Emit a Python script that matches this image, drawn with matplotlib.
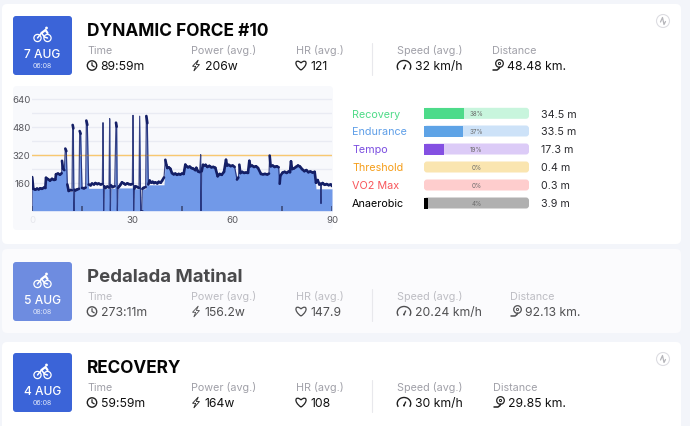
import numpy as np
import matplotlib
matplotlib.use("Agg")
import matplotlib.pyplot as plt
from matplotlib.collections import LineCollection
from matplotlib.patches import FancyBboxPatch, Circle, Polygon, PathPatch, Arc
from matplotlib.path import Path

plt.rcParams['font.family'] = ['Inter', 'DejaVu Sans']

# ---------- data ----------
power_samples = [
    (0, 0), (0.05, 192), (0.4, 125), (1, 120), (1.5, 126), (2, 122), (2.5, 128), (3, 125), (3.6, 132), (4, 130),
    (4.2, 188), (4.8, 180), (5.4, 172), (6, 182), (6.6, 176), (7, 178), (7.2, 208), (7.8, 212), (8.4, 206), (8.9, 214),
    (9, 285), (9.3, 240), (9.7, 232), (10, 355), (10.3, 340), (10.6, 150), (11, 113), (11.5, 118), (12, 116),
    (12.2, 490), (12.4, 470), (12.6, 0), (12.8, 120), (13, 116), (13.6, 122), (14.1, 125), (14.3, 455), (14.6, 440),
    (15, 130), (15.6, 128), (16.1, 132), (16.3, 515), (16.6, 490), (17, 150), (17.6, 145), (18, 155), (18.6, 150),
    (19, 158), (19.6, 152), (20, 155), (20.6, 150), (21.1, 152), (21.3, 503), (21.5, 0), (21.7, 140), (22, 130),
    (22.6, 138), (23.1, 132), (23.3, 526), (23.5, 0), (23.7, 145), (24.2, 135), (24.8, 140), (25.2, 503), (25.4, 480),
    (25.6, 0), (25.8, 130), (26.2, 140), (26.6, 150), (27, 162), (27.6, 155), (28, 150), (28.6, 156), (29, 152),
    (29.6, 150), (30.1, 152), (30.3, 545), (30.5, 0), (30.7, 125), (31, 140), (31.6, 135), (32.1, 130), (32.3, 540),
    (32.6, 0), (32.9, 0), (33.1, 125), (33.4, 130), (34.1, 135), (34.3, 541), (34.6, 500), (34.9, 150), (35.3, 172),
    (35.8, 160), (36.2, 165), (36.6, 158), (37, 162), (37.6, 156), (38, 165), (38.6, 160), (39, 170), (39.6, 190),
    (40, 291), (40.3, 262), (40.6, 244), (41, 248), (41.5, 240), (42, 215), (42.5, 208), (43, 212), (43.5, 205),
    (44, 210), (44.5, 207), (45, 212), (45.5, 210), (46, 263), (46.3, 255), (46.8, 248), (47.3, 252), (47.8, 244),
    (48.4, 240), (49, 232), (49.3, 245), (49.8, 225), (50.3, 220), (50.6, 320), (50.7, 0), (50.9, 225), (51.3, 262),
    (51.9, 258), (52.1, 262), (52.6, 250), (53.2, 256), (53.8, 248), (54.4, 250), (55, 245), (55.7, 197), (56.3, 210),
    (56.9, 205), (57.6, 222), (58.2, 291), (58.5, 258), (59, 262), (59.6, 255), (60.2, 258), (60.8, 250), (61.5, 178),
    (61.9, 190), (62.2, 263), (62.5, 215), (63, 222), (63.6, 216), (64.2, 218), (64.8, 216), (65.2, 285), (65.5, 254),
    (66, 258), (66.6, 250), (67.2, 254), (67.8, 244), (68.7, 210), (69.3, 208), (69.9, 210), (70.6, 207), (71.1, 212),
    (71.3, 315), (71.6, 254), (72.2, 258), (72.8, 250), (73.4, 254), (74, 248), (74.3, 154), (74.5, 200), (75.2, 218),
    (75.8, 222), (76.4, 216), (77, 224), (77.4, 220), (77.7, 282), (78, 238), (78.6, 242), (79.2, 250), (79.8, 258),
    (80.4, 252), (81, 238), (81.7, 226), (82.3, 232), (82.9, 220), (83.5, 224), (84.2, 218), (84.8, 222), (85.2, 160),
    (85.7, 175), (86.2, 150), (86.6, 155), (86.7, 41), (86.8, 150), (87.2, 158), (87.8, 148), (88.4, 152), (89, 146),
    (89.6, 150), (90, 141),
]
# stretches where the blue area sits lower than the power trace: (from, to, area height)
fill_caps = [(10.6, 12, 110), (16.9, 21.1, 128), (21.7, 23.1, 126), (23.7, 25, 128), (25.8, 30.1, 130),
             (30.7, 32.1, 125), (33.1, 34.1, 125), (34.9, 39.6, 148), (85.2, 90, 125)]
threshold_w = 320
minor_ticks = [0, 15, 45, 75, 90]
y_ticks = [160, 320, 480, 640]
x_ticks = [0, 30, 60, 90]

zones = ["Recovery", "Endurance", "Tempo", "Threshold", "VO2 Max", "Anaerobic"]
zone_pct = [38, 37, 19, 0, 0, 4]
zone_min = ["34.5 m", "33.5 m", "17.3 m", "0.4 m", "0.3 m", "3.9 m"]
zone_text = ["#4fdb88", "#5f9fe8", "#7c4fe0", "#f59e1b", "#f8555a", "#000000"]
zone_fill = ["#4ddb8a", "#5ea3e6", "#8450e2", "#f0b040", "#f8606a", "#000000"]
zone_track = ["#c8f5dd", "#cde2f8", "#dccbf7", "#fae5b0", "#fecdcd", "#b0b0b0"]

cards = [
    dict(top=5, bottom=245, bg="#ffffff", box="#3b64d8", date="7 AUG", hour="06:08", title="DYNAMIC FORCE #10", tsize=17.3,
         vals=["89:59m", "206w", "121", "32 km/h", "48.48 km."], dist_x=492, logo=True, faded=False, t_y=31.5, box_top=17),
    dict(top=250, bottom=334, bg="#fbfbfd", box="#6e8ce0", date="5 AUG", hour="08:08", title="Pedalada Matinal", tsize=18.6,
         vals=["273:11m", "156.2w", "147.9", "20.24 km/h", "92.13 km."], dist_x=510, logo=False, faded=True, t_y=277.5, box_top=263),
    dict(top=343, bottom=440, bg="#ffffff", box="#3b64d8", date="4 AUG", hour="06:08", title="RECOVERY", tsize=17.2,
         vals=["59:59m", "164w", "108", "30 km/h", "29.85 km."], dist_x=493, logo=True, faded=False, t_y=368.5, box_top=354),
]
stat_labels = ["Time", "Power (avg.)", "HR (avg.)", "Speed (avg.)", "Distance"]

power_t = np.array([p[0] for p in power_samples], dtype=float)
power_w = np.array([p[1] for p in power_samples], dtype=float)
fill_w = power_w.copy()
for t0, t1, cap in fill_caps:
    inside = (power_t >= t0) & (power_t <= t1)
    fill_w[inside] = np.minimum(fill_w[inside], cap)

# ---------- canvas in pixels ----------
W, H = 690, 427
fig = plt.figure(figsize=(W / 100, H / 100), dpi=100, facecolor="#f3f5fa")
bg = fig.add_axes([0, 0, 1, 1])
bg.set_xlim(0, W)
bg.set_ylim(H, 0)
bg.axis("off")


def px(s):
    return s * 0.72


def rbox(x0, y0, x1, y1, r, **kw):
    p = FancyBboxPatch((x0 + r, y0 + r), x1 - x0 - 2 * r, y1 - y0 - 2 * r,
                       boxstyle=f"round,pad={r},rounding_size={r}", linewidth=kw.pop("lw", 0), **kw)
    bg.add_patch(p)
    return p


def line(xs, ys, c, lw=1.0, z=5):
    bg.plot(xs, ys, color=c, lw=lw, solid_capstyle="round", zorder=z)


def bike(cx, cy):
    c = "white"
    for dx in (-5, 5):
        bg.add_patch(Circle((cx + dx, cy + 4), 3.6, fill=False, ec=c, lw=0.9, zorder=5))
    line([cx - 5, cx - 1, cx + 2, cx + 5], [cy + 4, cy - 1, cy + 3, cy + 4], c, 1.1)
    line([cx - 1, cx + 3, cx + 5], [cy - 1, cy - 4, cy - 1], c, 1.6)
    bg.add_patch(Circle((cx + 4, cy - 6), 1.4, color=c, lw=0, zorder=5))


def clock(cx, cy, c):
    bg.add_patch(Circle((cx, cy), 4.7, fill=False, ec=c, lw=1.0, zorder=5))
    line([cx, cx, cx + 2.2], [cy - 2.8, cy, cy + 1.3], c, 0.9)


def bolt(cx, cy, c):
    pts = [(cx + 2.3, cy - 5.5), (cx - 3.5, cy + 0.8), (cx - 0.3, cy + 0.8), (cx - 2.2, cy + 5.5),
           (cx + 3.5, cy - 1), (cx + 0.3, cy - 1)]
    bg.add_patch(Polygon(pts, closed=True, fill=False, ec=c, lw=0.6, zorder=5))


def heart(cx, cy, c):
    verts = [(cx, cy + 4.6), (cx - 8.2, cy - 1.2), (cx - 5.2, cy - 7.4), (cx, cy - 2.6),
             (cx + 5.2, cy - 7.4), (cx + 8.2, cy - 1.2), (cx, cy + 4.6)]
    codes = [Path.MOVETO, Path.CURVE4, Path.CURVE4, Path.CURVE4, Path.CURVE4, Path.CURVE4, Path.CURVE4]
    bg.add_patch(PathPatch(Path(verts, codes), fill=False, ec=c, lw=0.9, zorder=5))


def gauge(cx, cy, c):
    bg.add_patch(Arc((cx, cy + 1.0), 13.5, 12, theta1=150, theta2=390, ec=c, lw=1.0, zorder=5))
    line([cx, cx + 1.6], [cy + 3, cy - 0.5], c, 1.0)
    bg.add_patch(Circle((cx, cy + 3), 1.0, color=c, lw=0, zorder=5))


def pin(cx, cy, c):
    bg.add_patch(Circle((cx + 1.5, cy - 2), 3.8, fill=False, ec=c, lw=0.9, zorder=5))
    bg.add_patch(Circle((cx + 1.5, cy - 2), 1.1, fill=False, ec=c, lw=0.7, zorder=5))
    line([cx - 5, cx - 1, cx + 1, cx + 1.6], [cy + 4.5, cy + 4.5, cy + 3, cy + 1.6], c, 1.1)


for cd in cards:
    rbox(2, cd["top"], 681, cd["bottom"], 5, facecolor=cd["bg"], zorder=1)
    bt = cd["box_top"]
    rbox(13, bt, 72, bt + 59, 3, facecolor=cd["box"], zorder=2)
    bike(42.5, bt + 18)
    bg.text(42.5, bt + 38, cd["date"], color="white", ha="center", va="center", fontsize=px(12), fontweight="medium", zorder=5)
    bg.text(42.5, bt + 49.5, cd["hour"], color="#dfe6fa", ha="center", va="center", fontsize=px(7), zorder=5)
    tc = "#4a4a4c" if cd["faded"] else "#050505"
    bg.text(87, cd["t_y"], cd["title"], color=tc, ha="left", va="center", fontsize=px(cd["tsize"]), fontweight="bold", zorder=5)
    lab_y = cd["t_y"] + 19.5
    val_y = cd["t_y"] + 35.5
    lc = "#bdbdc3" if cd["faded"] else "#a0a0a8"
    vc = "#505052" if cd["faded"] else "#101010"
    ic = "#505052" if cd["faded"] else "#202020"
    xs = [87, 191, 296, 397, cd["dist_x"]]
    tx = [100.5, 204.5, 310, 415, cd["dist_x"] + 15]
    for i, (lab, val) in enumerate(zip(stat_labels, cd["vals"])):
        bg.text(xs[i], lab_y, lab, color=lc, ha="left", va="center", fontsize=px(10.8), zorder=5)
        bg.text(tx[i], val_y, val, color=vc, ha="left", va="center", fontsize=px(12.2), zorder=5)
    clock(92, val_y - 0.5, ic)
    bolt(196, val_y - 0.5, ic)
    heart(301, val_y - 0.5, ic)
    gauge(404, val_y - 0.5, ic)
    pin(cd["dist_x"] + 6, val_y - 0.5, ic)
    line([371.5, 371.5], [lab_y - 7, val_y + 9], "#e8e8ec", 0.8)
    if cd["logo"]:
        ly = cd["top"] + 17
        bg.add_patch(Circle((663, ly), 6.5, fill=False, ec="#dddde2", lw=0.8, zorder=5))
        line([660.5, 662.5, 664, 665.5], [ly + 1, ly - 3.5, ly + 3.5, ly + 0.5], "#b5b5ba", 0.9)

# chart panel
rbox(13, 87, 333, 231, 4, facecolor="#f8f9fc", zorder=2)

# ---------- chart ----------
y_scale = 28 / 160
ax = fig.add_axes([32 / W, 1 - 211.7 / H, 300 / W, (211.7 - 87) / H])
ax.patch.set_alpha(0)
ax.set_xlim(0, 90)
ax.set_ylim(0, (211.7 - 87) / y_scale)
for s in ax.spines.values():
    s.set_visible(False)
ax.set_yticks(y_ticks)
ax.set_yticks([80, 240, 400, 560], minor=True)
ax.grid(True, axis="y", which="both", color="#e9ebf3", lw=1)
ax.set_axisbelow(True)
ax.set_xticks(x_ticks)
ax.tick_params(axis="both", which="both", length=0, labelsize=px(9.6), labelcolor="#58585e", pad=1)
ax.tick_params(axis="x", pad=3)
ax.get_xticklabels()[0].set_color("#e6e7ec")
ax.fill_between(power_t, fill_w, color="#7199e8", lw=0, zorder=2)
ax.axhline(threshold_w, color="#f8c870", lw=1, zorder=3)
# thin trace for every sample, thick band where the power is steady
ax.plot(power_t, power_w, color="#1a2670", lw=0.85, alpha=0.85, zorder=4)
pts = np.column_stack([power_t, power_w])
segs = np.stack([pts[:-1], pts[1:]], axis=1)
steady = np.abs(np.diff(power_w)) < 70
ax.add_collection(LineCollection(segs[steady], colors="#141f66", linewidths=1.9, capstyle="round", zorder=4))
ax.vlines(minor_ticks, 0, 28, color="#3d4a78", lw=1.2, zorder=5)

# ---------- zones ----------
row_y = [114.3, 132, 150, 168, 186, 204]
for y, name, tc, tr, mins in zip(row_y, zones, zone_text, zone_track, zone_min):
    bg.text(352, y + 0.5, name, color=tc, ha="left", va="center", fontsize=px(10.8), zorder=5)
    rbox(424, y - 5.5, 529, y + 5.5, 3, facecolor=tr, zorder=2)
    bg.text(541, y + 0.5, mins, color="#2a2a2e", ha="left", va="center", fontsize=px(10.7), zorder=5)

zx = fig.add_axes([424 / W, 1 - 213 / H, 105 / W, (213 - 105) / H])
zx.patch.set_alpha(0)
zx.axis("off")
zx.set_xlim(0, 100)
zx.set_ylim(213, 105)
zx.barh(row_y, zone_pct, height=11, color=zone_fill, lw=0, zorder=3)
for y, p in zip(row_y, zone_pct):
    zx.text(50, y, f"{p}%", color="#6a6a6a", ha="center", va="center", fontsize=px(6.2), zorder=5)

fig.savefig("out.png", dpi=100, facecolor=fig.get_facecolor())
